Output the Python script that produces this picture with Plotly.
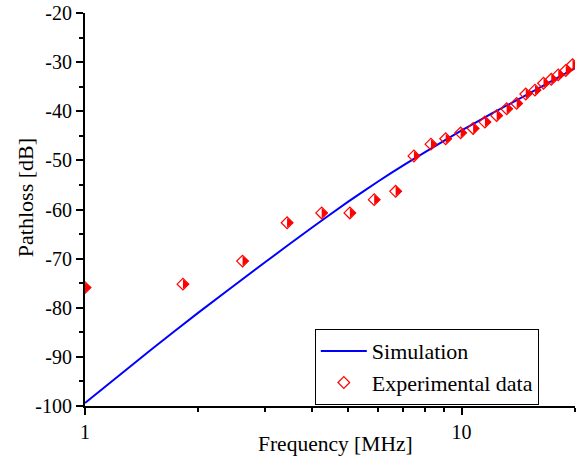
import math
import plotly.graph_objects as go

# Simulation curve (frequency in MHz, pathloss in dB)
sim_freq = [1, 1.5, 2, 3, 4, 5, 6, 7, 8, 10, 12, 15, 20]
sim_loss = [-99.4, -88.5, -81.0, -70.8, -63.7, -58.4, -54.3, -51.0, -48.3, -43.9, -40.5, -36.5, -31.2]

# Experimental data
exp_freq = [1.0, 1.82, 2.62, 3.44, 4.25, 5.05, 5.86, 6.68, 7.47, 8.29, 9.07, 9.94,
            10.73, 11.53, 12.39, 13.17, 14.0, 14.8, 15.66, 16.5, 17.3, 18.05, 18.9, 19.7]
exp_loss = [-75.9, -75.2, -70.5, -62.7, -60.7, -60.7, -58.0, -56.3, -49.1, -46.7, -45.6, -44.4,
            -43.5, -42.2, -40.9, -39.5, -38.4, -36.5, -35.7, -34.3, -33.5, -32.6, -31.7, -30.5]

y_ticks = [-100, -90, -80, -70, -60, -50, -40, -30, -20]
y_ticktext = ["-100", "-90", "-80", "-70", "-60", "-50", "-40", "-30", "-20"]
x_ticks = [1, 10]
x_ticktext = ["1", "10"]
x_minor = [2, 3, 4, 5, 6, 7, 8, 9, 20]

FONT = "Liberation Serif"
FS = 20

fig = go.Figure()
fig.add_trace(go.Scatter(
    x=sim_freq, y=sim_loss, mode="lines", name="Simulation",
    line=dict(color="#0000FF", width=2, shape="spline", smoothing=0.5),
))
fig.add_trace(go.Scatter(
    x=exp_freq, y=exp_loss, mode="markers", name="Experimental data",
    legendgroup="exp",
    marker=dict(symbol="diamond-open", size=9, color="#FF0000", line=dict(width=1.2, color="#FF0000")),
))
# filled right half of each diamond
fig.add_trace(go.Scatter(
    x=exp_freq, y=exp_loss, mode="markers", name="Experimental data",
    legendgroup="exp", showlegend=False, hoverinfo="skip",
    marker=dict(symbol="triangle-down", angle=-90, standoff=2.1, size=8.4,
                color="#FF0000", line=dict(width=0)),
))

xr = [0, math.log10(20)]
yr = [-100, -20]

common_x = dict(type="log", range=xr, showline=True, linecolor="black", linewidth=2,
                showgrid=False, zeroline=False, tickmode="array", tickvals=x_ticks,
                ticklen=7, tickwidth=1.5, tickcolor="black")
common_y = dict(range=yr, showline=True, linecolor="black", linewidth=2,
                showgrid=False, zeroline=False, tickmode="array", tickvals=y_ticks,
                ticklen=7, tickwidth=1.5, tickcolor="black")

fig.update_layout(
    width=582, height=456,
    margin=dict(l=85, r=7, t=13, b=50, autoexpand=False),
    paper_bgcolor="white", plot_bgcolor="white",
    font=dict(family=FONT, size=FS, color="black"),
    showlegend=True,
    legend=dict(x=0.469, y=0.099, xanchor="left", yanchor="middle",
                bordercolor="black", borderwidth=1, bgcolor="white",
                font=dict(family=FONT, size=22, color="black"),
                tracegroupgap=0, itemwidth=46),
    xaxis=dict(**common_x, ticks="outside", ticktext=x_ticktext,
               minor=dict(tickmode="array", tickvals=x_minor, ticks="outside", ticklen=4,
                          tickwidth=1.5, tickcolor="black"),
               tickfont=dict(family=FONT, size=FS, color="black")),
    yaxis=dict(**common_y, ticks="outside", ticktext=y_ticktext, ticklabeloverflow="allow",
               minor=dict(dtick=5, ticks="outside", ticklen=4, tickwidth=1.5, tickcolor="black"),
               tickfont=dict(family=FONT, size=FS, color="black")),
    xaxis2=dict(**common_x, overlaying="x", side="top", ticks="inside", showticklabels=False,
                minor=dict(tickmode="array", tickvals=x_minor, ticks="inside", ticklen=4,
                           tickwidth=1.5, tickcolor="black")),
    yaxis2=dict(**common_y, overlaying="y", side="right", ticks="inside", showticklabels=False,
                minor=dict(dtick=5, ticks="inside", ticklen=6, tickwidth=1.5, tickcolor="black")),
    annotations=[
        dict(text="Frequency [MHz]", xref="paper", yref="paper", x=0.512, y=-0.096,
             xanchor="center", yanchor="middle", showarrow=False,
             font=dict(family=FONT, size=21.5, color="black")),
        dict(text="Pathloss [dB]", xref="paper", yref="paper", x=-0.1224, y=0.529,
             xanchor="center", yanchor="middle", showarrow=False, textangle=-90,
             font=dict(family=FONT, size=22, color="black")),
    ],
)

# remove the default 8px body margin so the figure fills the window exactly
fig.write_html("out.html", config={"displayModeBar": False},
               post_script="document.body.style.margin='0px';")
